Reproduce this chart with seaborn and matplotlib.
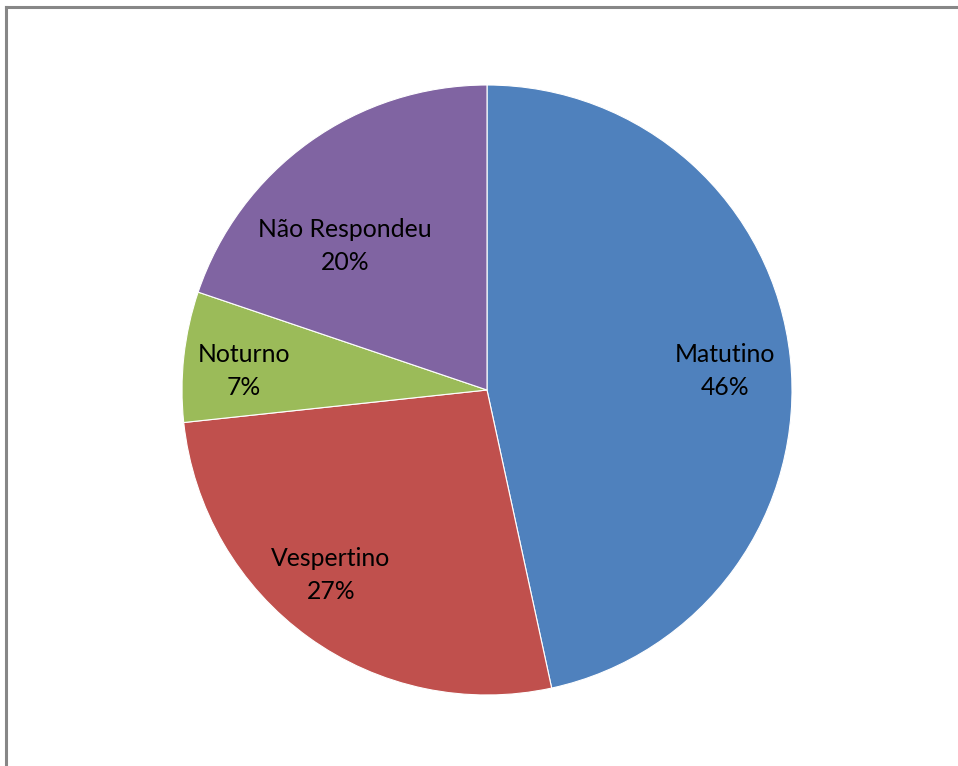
"""
Gráfico de pizza: turno de preferência dos respondentes
"""
import matplotlib
matplotlib.use("Agg")
import matplotlib.pyplot as plt
import seaborn as sns
from matplotlib.lines import Line2D

# Dados
turnos = ["Matutino", "Vespertino", "Noturno", "Não Respondeu"]
fatias = [46.6, 26.7, 6.9, 19.8]          # tamanho das fatias
rotulos_pct = ["46%", "27%", "7%", "20%"]  # rótulos como exibidos
cores = ["#4F81BD", "#C0504D", "#9BBB59", "#8064A2"]

# Posição dos rótulos (em raios, relativo ao centro), como no Excel
rotulos_xy = [(0.78, 0.062), (-0.512, -0.607), (-0.797, 0.062), (-0.466, 0.472)]

sns.set_style("white")
plt.rcParams["font.family"] = ["Lato", "DejaVu Sans"]

fig = plt.figure(figsize=(9.58, 7.66), dpi=100)
W, H = 958, 766

# eixo da pizza: centro (487, 390) px, raio 305 px
cx, cy, r = 487, 390, 305
ax = fig.add_axes([(cx - r) / W, (H - cy - r) / H, 2 * r / W, 2 * r / H])

wedges, _ = ax.pie(
    fatias,
    colors=cores,
    startangle=90,
    counterclock=False,
    radius=1,
    wedgeprops=dict(edgecolor="white", linewidth=0.8),
)
ax.set_xlim(-1, 1)
ax.set_ylim(-1, 1)
ax.set_aspect("equal")
ax.axis("off")

for nome, pct, (x, y) in zip(turnos, rotulos_pct, rotulos_xy):
    ax.text(x, y, f"{nome}\n{pct}", ha="center", va="center",
            fontsize=17.8, color="black", linespacing=1.53)

# moldura (só borda superior e esquerda visíveis no recorte)
cor_borda = "#878787"
fig.add_artist(Line2D([6 / W, 6 / W], [0, 1 - 7 / H], transform=fig.transFigure,
                      color=cor_borda, linewidth=2.2, solid_capstyle="projecting"))
fig.add_artist(Line2D([6 / W, 1], [1 - 7 / H, 1 - 7 / H], transform=fig.transFigure,
                      color=cor_borda, linewidth=2.2, solid_capstyle="projecting"))

fig.savefig("out.png", dpi=100)
